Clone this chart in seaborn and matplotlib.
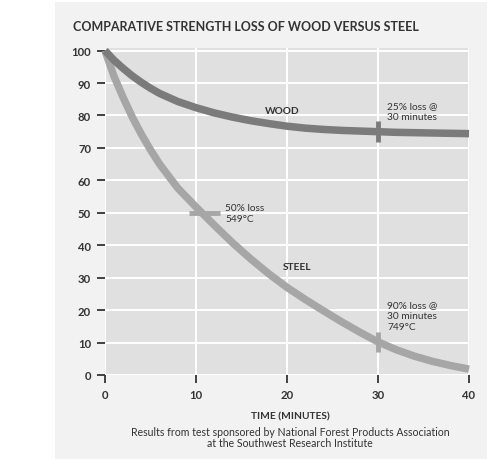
"""
Comparative strength loss of wood versus steel (fire test curves).
"""

import matplotlib
matplotlib.use("Agg")

import matplotlib.pyplot as plt
import pandas as pd
import seaborn as sns
from matplotlib.patches import Rectangle

# ─────────────────────────────────────────────────────────────────────────────
# DATA
# ─────────────────────────────────────────────────────────────────────────────

minutes = [0, 1, 2, 3, 4, 5, 6, 8, 10, 12, 14, 16, 18, 20, 22, 24, 26, 28, 30,
           32, 34, 36, 38, 40]
wood_pct = [100, 97, 94.5, 92.2, 90.2, 88.4, 86.8, 84.3, 82.4, 80.8, 79.5,
            78.4, 77.5, 76.7, 76.1, 75.7, 75.4, 75.2, 75.0, 74.8, 74.7, 74.6,
            74.5, 74.4]
steel_pct = [100, 92, 85.5, 79.5, 74.2, 69.4, 65.0, 57.6, 51.8, 46.2, 40.8,
             35.8, 31.2, 27.0, 23.3, 19.8, 16.4, 13.2, 10.2, 7.8, 5.8, 4.2,
             2.9, 1.8]

# callout marks: (minute, percent)
wood_mark = (30, 75)
steel_marks = [(10.8, 50), (30, 10.2)]

x_ticks = [0, 10, 20, 30, 40]
y_ticks = [0, 10, 20, 30, 40, 50, 60, 70, 80, 90, 100]

title = "COMPARATIVE STRENGTH LOSS OF WOOD VERSUS STEEL"
x_label = "TIME (MINUTES)"
footer = ("Results from test sponsored by National Forest Products Association\n"
          "at the Southwest Research Institute")

WOOD_COLOR = "#7b7b7b"
STEEL_COLOR = "#a6a6a6"
TEXT_COLOR = "#333333"

# ─────────────────────────────────────────────────────────────────────────────
# PLOT
# ─────────────────────────────────────────────────────────────────────────────

sns.set_theme(style="darkgrid", rc={
    "axes.facecolor": "#e0e0e0",
    "grid.color": "white",
    "grid.linewidth": 1.4,
})
plt.rcParams["font.family"] = ["Lato", "DejaVu Sans"]

df = pd.DataFrame({"minutes": minutes, "WOOD": wood_pct, "STEEL": steel_pct})
long_df = df.melt(id_vars="minutes", var_name="material", value_name="pct")

fig = plt.figure(figsize=(4.87, 4.60), dpi=100, facecolor="white")
fig.patches.append(Rectangle((55 / 487, 0.0), 1 - 55 / 487, 1 - 3 / 460,
                             transform=fig.transFigure, facecolor="#f2f2f2",
                             edgecolor="none", zorder=-10))
ax = fig.add_axes([105 / 487, 1 - 376 / 460, 364 / 487, 327 / 460])

sns.lineplot(data=long_df, x="minutes", y="pct", hue="material",
             palette={"WOOD": WOOD_COLOR, "STEEL": STEEL_COLOR},
             hue_order=["STEEL", "WOOD"], linewidth=5.4, legend=False,
             ax=ax, clip_on=False)
for line in ax.lines:
    line.set_solid_capstyle("butt")
    line.set_solid_joinstyle("round")

# short cross marks on the curves
ax.plot([wood_mark[0]] * 2, [wood_mark[1] - 3.2, wood_mark[1] + 3.2],
        color=WOOD_COLOR, lw=3.5, solid_capstyle="butt")
ax.plot([steel_marks[0][0] - 1.6, steel_marks[0][0] + 1.8],
        [steel_marks[0][1]] * 2, color=STEEL_COLOR, lw=3.5,
        solid_capstyle="butt")
ax.plot([steel_marks[1][0]] * 2, [steel_marks[1][1] - 3, steel_marks[1][1] + 3],
        color=STEEL_COLOR, lw=3.5, solid_capstyle="butt")

ax.set_xlim(0, 40)
ax.set_ylim(0, 100.8)
ax.set_xticks(x_ticks)
ax.set_yticks(y_ticks)
ax.grid(True, which="major")
for spine in ax.spines.values():
    spine.set_visible(False)
ax.tick_params(axis="both", which="major", direction="out", length=6,
               width=1.3, color=TEXT_COLOR, labelsize=8.2,
               labelcolor=TEXT_COLOR, pad=4, bottom=True, left=True)
for lab in ax.get_xticklabels() + ax.get_yticklabels():
    lab.set_fontweight("bold")
ax.set_xlabel("")
ax.set_ylabel("")

# in-plot labels
lab_kw = dict(color=TEXT_COLOR, fontsize=7.3, linespacing=1.3)
ax.text(19.5, 81.6, "WOOD", ha="center", va="center", fontweight="bold",
        **lab_kw)
ax.text(21.1, 33.6, "STEEL", ha="center", va="center", fontweight="bold",
        **lab_kw)
ax.text(31.0, 81.3, "25% loss @\n30 minutes", ha="left", va="center", **lab_kw)
ax.text(13.2, 49.8, "50% loss\n549°C", ha="left", va="center", **lab_kw)
ax.text(31.0, 18.4, "90% loss @\n30 minutes\n749°C", ha="left", va="center",
        **lab_kw)

# titles
fig.text(73 / 487, 1 - 27 / 460, title, ha="left", va="center",
         fontsize=9.0, fontweight="bold", color=TEXT_COLOR)
fig.text(290 / 487, 1 - 417 / 460, x_label, ha="center", va="center",
         fontsize=7.3, fontweight="bold", color=TEXT_COLOR)
fig.text(290 / 487, 1 - 438 / 460, footer, ha="center", va="center",
         fontsize=7.6, color=TEXT_COLOR, linespacing=1.1)

fig.savefig("out.png", dpi=100, facecolor=fig.get_facecolor())
plt.close(fig)
